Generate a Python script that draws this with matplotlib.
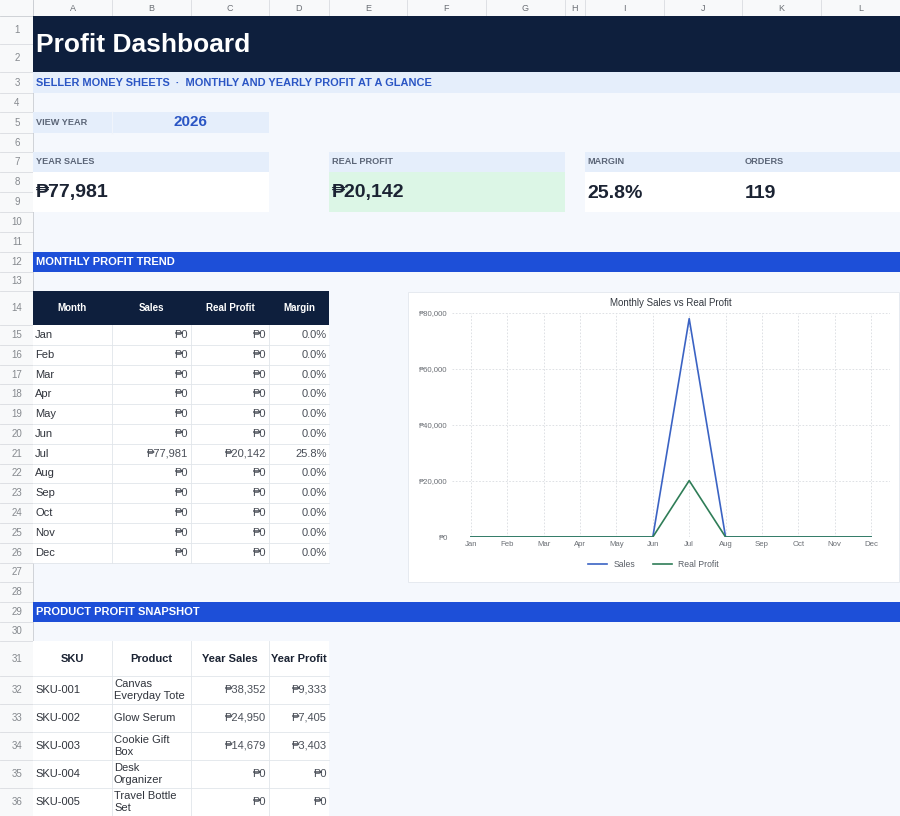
import matplotlib.pyplot as plt
from matplotlib.patches import Rectangle
from matplotlib.ticker import FuncFormatter

plt.rcParams['font.family'] = ['Liberation Sans', 'DejaVu Sans']

# data
months = ['Jan', 'Feb', 'Mar', 'Apr', 'May', 'Jun', 'Jul', 'Aug', 'Sep', 'Oct', 'Nov', 'Dec']
monthly_sales = [0, 0, 0, 0, 0, 0, 77981, 0, 0, 0, 0, 0]
monthly_profit = [0, 0, 0, 0, 0, 0, 20142, 0, 0, 0, 0, 0]
monthly_margin = [0.0, 0.0, 0.0, 0.0, 0.0, 0.0, 25.8, 0.0, 0.0, 0.0, 0.0, 0.0]

view_year = 2026
kpi_labels = ['YEAR SALES', 'REAL PROFIT', 'MARGIN', 'ORDERS']
kpi_values = ['₱77,981', '₱20,142', '25.8%', '119']

skus = ['SKU-001', 'SKU-002', 'SKU-003', 'SKU-004', 'SKU-005']
products = ['Canvas\nEveryday Tote', 'Glow Serum', 'Cookie Gift\nBox', 'Desk\nOrganizer', 'Travel Bottle\nSet']
product_sales = [38352, 24950, 14679, 0, 0]
product_profit = [9333, 7405, 3403, 0, 0]

month_headers = ['Month', 'Sales', 'Real Profit', 'Margin']
product_headers = ['SKU', 'Product', 'Year Sales', 'Year Profit']


def peso(v):
    return f'₱{v:,.0f}'


# sheet geometry (pixels)
col_x = [33, 112, 191, 269, 329, 407, 486, 565, 585, 664, 742, 821, 900]
col_names = 'ABCDEFGHIJKL'
row_y = [16, 44, 72, 93, 112, 133, 152, 172, 192, 212, 232, 252, 272, 291, 325]
for i in range(12):
    row_y.append(round(325 + (i + 1) * 19.8, 1))
row_y += [582, 602, 622, 641, 676, 704, 732, 760, 788, 816]


def top(r):
    return row_y[r - 1]


def bot(r):
    return row_y[r]


def mid(r0, r1=None):
    return (top(r0) + bot(r1 or r0)) / 2


NAVY = '#0e1f3d'
BLUE = '#1d4fd8'
BAND = '#e5eefb'
SHEET = '#f5f8fd'
GRID = '#e1e5ea'
LABEL = '#5b6577'
DARK = '#1b2333'
BODY = '#4a4f58'

fig = plt.figure(figsize=(9, 8.16), dpi=100)
ax = fig.add_axes([0, 0, 1, 1])
ax.set_xlim(0, 900)
ax.set_ylim(816, 0)
ax.axis('off')


def box(x0, y0, x1, y1, fc, ec='none', lw=0.7, z=1):
    ax.add_patch(Rectangle((x0, y0), x1 - x0, y1 - y0, facecolor=fc, edgecolor=ec, linewidth=lw, zorder=z))


# spreadsheet chrome
box(0, 0, 900, 816, '#ffffff', z=0)
box(33, 16, 900, 816, SHEET, z=0)
box(0, 0, 900, 16, '#f8f9fa', z=0)
box(0, 16, 33, 816, '#f8f9fa', z=0)
for x in col_x:
    ax.plot([x, x], [0, 16], color='#dadce0', lw=0.6, zorder=1)
for i, name in enumerate(col_names):
    ax.text((col_x[i] + col_x[i + 1]) / 2, 8.5, name, ha='center', va='center', fontsize=6.5, color='#6b6f75')
for r in range(1, len(row_y)):
    ax.plot([0, 33], [row_y[r], row_y[r]], color='#dadce0', lw=0.6, zorder=1)
    ax.text(17, mid(r), str(r), ha='center', va='center', fontsize=7, color='#85898e')
ax.plot([33, 33], [0, 816], color='#c9ccd1', lw=0.6, zorder=1)
ax.plot([0, 900], [16, 16], color='#c9ccd1', lw=0.6, zorder=1)

# title
box(33, top(1), 900, bot(2), NAVY)
ax.text(36, mid(1, 2) + 1, 'Profit Dashboard', ha='left', va='center',
        fontsize=19, fontweight='bold', color='white', zorder=3)
box(33, top(3), 900, bot(3), BAND)
ax.text(36, mid(3), 'SELLER MONEY SHEETS  ·  MONTHLY AND YEARLY PROFIT AT A GLANCE',
        ha='left', va='center', fontsize=7.9, fontweight='bold', color='#2a55c4', zorder=3)

# view year
box(33, top(5), 269, bot(5), BAND)
ax.plot([112, 112], [top(5), bot(5)], color='#f0f4fb', lw=0.8, zorder=2)
ax.text(36, mid(5), 'VIEW YEAR', ha='left', va='center',
        fontsize=6.6, fontweight='bold', color=LABEL, zorder=3)
ax.text(190, mid(5), str(view_year), ha='center', va='center',
        fontsize=11, fontweight='bold', color='#2a55c4', zorder=3)

# KPI cards
kpi_spans = [(33, 269), (329, 565), (585, 742), (742, 900)]
kpi_fill = ['#ffffff', '#dcf6e6', '#ffffff', '#ffffff']
for (x0, x1), lab, val, fc in zip(kpi_spans, kpi_labels, kpi_values, kpi_fill):
    box(x0, top(7), x1, bot(7), BAND)
    box(x0, top(8), x1, bot(9), fc)
    ax.text(x0 + 2.5, mid(7), lab, ha='left', va='center',
            fontsize=6.6, fontweight='bold', color=LABEL, zorder=3)
    ax.text(x0 + 2.5, mid(8, 9) + 1, val, ha='left', va='center',
            fontsize=14, fontweight='bold', color=DARK, zorder=3)

# section bars
for r, txt in [(12, 'MONTHLY PROFIT TREND'), (29, 'PRODUCT PROFIT SNAPSHOT')]:
    box(33, top(r), 900, bot(r), BLUE)
    ax.text(36, mid(r), txt, ha='left', va='center',
            fontsize=8, fontweight='bold', color='white', zorder=3)

# monthly table
tcols = col_x[:5]
box(33, top(14), 329, bot(14), NAVY)
for j, h in enumerate(month_headers):
    ax.text((tcols[j] + tcols[j + 1]) / 2, mid(14), h, ha='center', va='center',
            fontsize=7, fontweight='bold', color='white', zorder=3)
box(33, top(15), 329, bot(26), '#ffffff')
for i, m in enumerate(months):
    r = 15 + i
    yc = mid(r)
    ax.plot([33, 329], [bot(r), bot(r)], color=GRID, lw=0.6, zorder=2)
    ax.text(35, yc, m, ha='left', va='center', fontsize=8, color='#30343c', zorder=3)
    ax.text(tcols[2] - 3, yc, peso(monthly_sales[i]), ha='right', va='center', fontsize=8, color=BODY, zorder=3)
    ax.text(tcols[3] - 3, yc, peso(monthly_profit[i]), ha='right', va='center', fontsize=8, color=BODY, zorder=3)
    ax.text(tcols[4] - 2, yc, f'{monthly_margin[i]:.1f}%', ha='right', va='center', fontsize=8, color=BODY, zorder=3)
for x in tcols[1:4]:
    ax.plot([x, x], [top(15), bot(26)], color=GRID, lw=0.6, zorder=2)

# product table
box(33, top(31), 329, bot(36), '#ffffff')
for j, h in enumerate(product_headers):
    ax.text((tcols[j] + tcols[j + 1]) / 2, mid(31), h, ha='center', va='center',
            fontsize=8, fontweight='bold', color=DARK, zorder=3)
ax.plot([33, 329], [bot(31), bot(31)], color=GRID, lw=0.6, zorder=2)
for i in range(len(skus)):
    r = 32 + i
    yc = mid(r)
    ax.plot([33, 329], [bot(r), bot(r)], color=GRID, lw=0.6, zorder=2)
    ax.text(35, yc, skus[i], ha='left', va='center', fontsize=8, color='#30343c', zorder=3)
    ax.text(114, yc, products[i], ha='left', va='center', fontsize=8, color='#30343c',
            linespacing=1.2, zorder=3)
    ax.text(tcols[3] - 3, yc, peso(product_sales[i]), ha='right', va='center', fontsize=8, color=BODY, zorder=3)
    ax.text(tcols[4] - 2, yc, peso(product_profit[i]), ha='right', va='center', fontsize=8, color=BODY, zorder=3)
for x in tcols[1:4]:
    ax.plot([x, x], [top(31), bot(36)], color=GRID, lw=0.6, zorder=2)

# chart
box(408, 292, 899, 582, '#ffffff', ec='#e6eaf0', lw=0.7)
cax = fig.add_axes([452 / 900, 1 - 537 / 816, (890 - 452) / 900, (537 - 313) / 816])
cax.set_facecolor('none')
x = list(range(len(months)))
cax.plot(x, monthly_sales, color='#3b63c4', lw=1.2, label='Sales')
cax.plot(x, monthly_profit, color='#2f7d57', lw=1.2, label='Real Profit')
cax.set_xlim(-0.52, 11.52)
cax.set_ylim(0, 80000)
cax.set_yticks([0, 20000, 40000, 60000, 80000])
cax.yaxis.set_major_formatter(FuncFormatter(lambda v, p: peso(v)))
cax.set_xticks(x)
cax.set_xticklabels(months)
cax.tick_params(length=0, labelsize=5.6, colors='#6b6f75', pad=3)
cax.grid(True, color='#d9dce1', lw=0.6, linestyle=(0, (2, 2)))
for s in cax.spines.values():
    s.set_visible(False)
cax.set_title('Monthly Sales vs Real Profit', fontsize=7, color='#333840', pad=5)
cax.legend(loc='upper center', bbox_to_anchor=(0.46, -0.07), ncol=2, frameon=False,
           fontsize=6.2, handlelength=2.2, columnspacing=2.0, labelcolor='#5a5f67')

fig.savefig('out.png', dpi=100)
